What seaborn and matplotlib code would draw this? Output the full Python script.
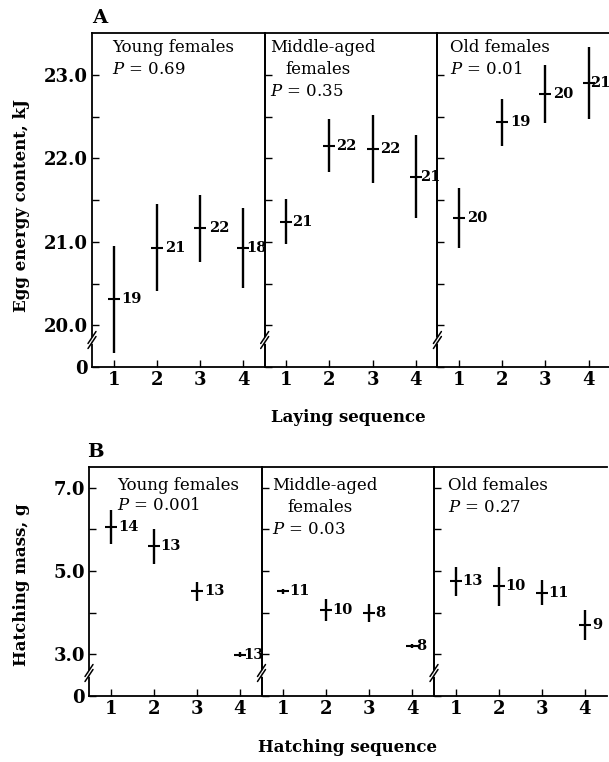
import numpy as np
import pandas as pd
import matplotlib
matplotlib.use("Agg")
import matplotlib.pyplot as plt
import seaborn as sns

# data
seq = [1, 2, 3, 4]
ages = ["Young", "Middle-aged", "Old"]

egg_young_mean = [20.31, 20.93, 21.16, 20.93]
egg_young_err = [0.64, 0.52, 0.40, 0.48]
egg_young_n = [19, 21, 22, 18]
egg_mid_mean = [21.24, 22.15, 22.11, 21.78]
egg_mid_err = [0.27, 0.32, 0.41, 0.50]
egg_mid_n = [21, 22, 22, 21]
egg_old_mean = [21.28, 22.43, 22.77, 22.90]
egg_old_err = [0.36, 0.28, 0.35, 0.43]
egg_old_n = [20, 19, 20, 21]

hatch_young_mean = [6.06, 5.60, 4.51, 2.99]
hatch_young_err = [0.40, 0.42, 0.24, 0.06]
hatch_young_n = [14, 13, 13, 13]
hatch_mid_mean = [4.52, 4.06, 4.00, 3.20]
hatch_mid_err = [0.06, 0.27, 0.22, 0.05]
hatch_mid_n = [11, 10, 8, 8]
hatch_old_mean = [4.76, 4.64, 4.48, 3.70]
hatch_old_err = [0.35, 0.47, 0.30, 0.36]
hatch_old_n = [13, 10, 11, 9]

egg_p = ["0.69", "0.35", "0.01"]
hatch_p = ["0.001", "0.03", "0.27"]


def make_df(means, errs, ns):
	rows = []
	for age, m, e, n in zip(ages, means, errs, ns):
		for s, mm, ee, nn in zip(seq, m, e, n):
			rows.append(dict(age=age, seq=s, mean=mm, err=ee, n=nn))
	return pd.DataFrame(rows)


egg = make_df([egg_young_mean, egg_mid_mean, egg_old_mean],
              [egg_young_err, egg_mid_err, egg_old_err],
              [egg_young_n, egg_mid_n, egg_old_n])
hatch = make_df([hatch_young_mean, hatch_mid_mean, hatch_old_mean],
                [hatch_young_err, hatch_mid_err, hatch_old_err],
                [hatch_young_n, hatch_mid_n, hatch_old_n])

sns.set_theme(style="ticks")
plt.rcParams['font.family'] = ['DejaVu Serif']
plt.rcParams['mathtext.fontset'] = 'dejavuserif'
for k in ['text.color', 'axes.labelcolor', 'xtick.color', 'ytick.color', 'axes.edgecolor']:
	plt.rcParams[k] = 'black'

W, H = 609, 762
fig = plt.figure(figsize=(W / 100, H / 100), dpi=100, facecolor='white')


def px(x, y):
	return x / W, 1 - y / H


def draw_row(df, left, width, top, bottom, ylim, major, minor, n_offsets):
	axes = []
	for i, age in enumerate(ages):
		x0 = left + i * width
		ax = fig.add_axes([x0 / W, 1 - bottom / H, width / W, (bottom - top) / H])
		ax.set_facecolor('none')
		d = df[df.age == age]
		ax.errorbar(d['seq'], d['mean'], yerr=d['err'], fmt='none',
		            ecolor='black', elinewidth=1.7, capsize=0)
		sns.scatterplot(data=d, x='seq', y='mean', marker='_', s=70,
		                linewidth=1.5, color='black', ax=ax, legend=False)
		for j, (_, r) in enumerate(d.iterrows()):
			ax.annotate(str(r['n']), (r['seq'], r['mean']), xytext=(n_offsets[i][j], 0),
			            textcoords='offset points', va='center', ha='left',
			            fontsize=10.5, fontweight='bold', annotation_clip=False,
			            zorder=10)
		ax.set_xlim(0.5, 4.5)
		ax.set_ylim(*ylim)
		ax.set_xticks(seq)
		ax.set_xticklabels([str(s) for s in seq], fontsize=13, fontweight='bold')
		ax.set_yticks([ylim[0]] + major)
		ax.set_yticks(minor, minor=True)
		if i == 0:
			ax.set_yticklabels(['0'] + ['%.1f' % v for v in major],
			                   fontsize=13, fontweight='bold')
		else:
			ax.set_yticklabels([])
		ax.set_xlabel('')
		ax.set_ylabel('')
		ax.tick_params(which='both', direction='in', length=5, width=1,
		               color='black', pad=3)
		ax.tick_params(axis='y', which='both', right=False)
		for sp in ax.spines.values():
			sp.set_linewidth(1.3)
		if i == 2:
			ax.spines['right'].set_visible(False)
		axes.append(ax)
	return axes


offA = [[5.5, 6, 6.5, 2.5], [4, 4.5, 5, 3], [5.5, 5.5, 5.5, 1.2]]
offB = [[5.5, 4.5, 5.5, 2.5], [4.5, 4.5, 4, 3], [4.5, 5, 4.5, 5.5]]
axA = draw_row(egg, 92, 172.7, 33, 367, (19.5, 23.5), [20.0, 21.0, 22.0, 23.0],
               [20.5, 21.5, 22.5], offA)
axB = draw_row(hatch, 89, 172.5, 467, 696, (2.0, 7.5), [3.0, 5.0, 7.0],
               [4.0, 6.0], offB)

# break marks on the left spines
for axes, ybrk in [(axA, 340), (axB, 673)]:
	for ax in axes:
		xs = ax.get_position().x0 * W
		fig.add_artist(plt.Line2D([xs / W, xs / W], [1 - (ybrk - 2) / H, 1 - (ybrk + 2) / H],
		                          color='white', lw=2))
		for dy in (-2.5, 2.5):
			fig.add_artist(plt.Line2D([(xs - 4) / W, (xs + 4) / W],
			                          [1 - (ybrk + dy + 6) / H, 1 - (ybrk + dy - 6) / H],
			                          color='black', lw=1.1))

# panel texts
txt = dict(fontsize=12, va='center', ha='left')
fig.text(*px(112, 47), 'Young females', **txt)
fig.text(*px(112, 69), '$P$ = ' + egg_p[0], **txt)
fig.text(*px(270, 47), 'Middle-aged', **txt)
fig.text(*px(285, 70), 'females', **txt)
fig.text(*px(270, 92), '$P$ = ' + egg_p[1], **txt)
fig.text(*px(450, 47), 'Old females', **txt)
fig.text(*px(450, 69), '$P$ = ' + egg_p[2], **txt)

fig.text(*px(117, 485), 'Young females', **txt)
fig.text(*px(117, 506), '$P$ = ' + hatch_p[0], **txt)
fig.text(*px(272, 485), 'Middle-aged', **txt)
fig.text(*px(287, 507), 'females', **txt)
fig.text(*px(272, 530), '$P$ = ' + hatch_p[1], **txt)
fig.text(*px(448, 485), 'Old females', **txt)
fig.text(*px(448, 507), '$P$ = ' + hatch_p[2], **txt)

# axis labels and panel letters
lab = dict(fontsize=12, fontweight='bold', va='center', ha='center')
fig.text(*px(22, 206), 'Egg energy content, kJ', rotation=90, **lab)
fig.text(*px(22, 585), 'Hatching mass, g', rotation=90, **lab)
fig.text(*px(348, 417), 'Laying sequence', **lab)
fig.text(*px(348, 748), 'Hatching sequence', **lab)
fig.text(*px(100, 18), 'A', fontsize=14, fontweight='bold', va='center', ha='center')
fig.text(*px(95, 452), 'B', fontsize=14, fontweight='bold', va='center', ha='center')

fig.savefig('out.png', dpi=100, facecolor='white')
